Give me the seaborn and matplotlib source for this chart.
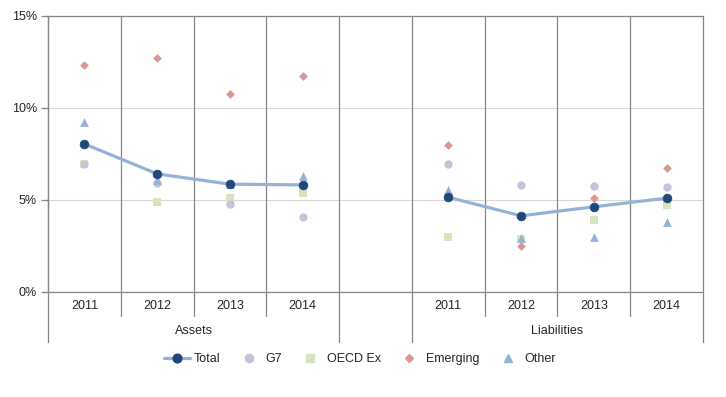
import numpy as np
import pandas as pd
import matplotlib
matplotlib.use("Agg")
import matplotlib.pyplot as plt
import seaborn as sns
from matplotlib.lines import Line2D

# DATA (percent)
years = ['2011', '2012', '2013', '2014', '', '2011', '2012', '2013', '2014']
groups = ['Assets', 'Assets', 'Assets', 'Assets', '', 'Liabilities', 'Liabilities', 'Liabilities', 'Liabilities']
total = [8.05, 6.42, 5.86, 5.82, np.nan, 5.15, 4.14, 4.63, 5.10]
g7 = [6.93, 5.95, 4.79, 4.05, np.nan, 6.93, 5.84, 5.75, 5.68]
oecd_ex = [6.93, 4.88, 5.12, 5.37, np.nan, 2.98, 2.90, 3.90, 4.72]
emerging = [12.36, 12.73, 10.78, 11.75, np.nan, 7.97, 2.48, 5.10, 6.76]
other = [9.26, 6.06, 5.85, 6.31, np.nan, 5.55, 2.93, 3.00, 3.80]
y_ticks = [0, 5, 10, 15]
y_tick_labels = ['0%', '5%', '10%', '15%']

# colours
c_line = '#95b3d7'
c_total = '#1f497d'
c_g7 = '#ccc1da'
c_oecd = '#d7e4bd'
c_em = '#d99694'
c_other = '#95b3d7'
c_grid = '#d9d9d9'
c_axis = '#868686'

sns.set_style('white')
plt.rcParams['font.family'] = ['Liberation Sans', 'DejaVu Sans']

pos = list(range(len(years)))
df = pd.DataFrame({'pos': pos, 'group': groups, 'Total': total, 'G7': g7,
                   'OECD Ex': oecd_ex, 'Emerging': emerging, 'Other': other})

fig = plt.figure(figsize=(7.26, 3.97), dpi=100)
ax = fig.add_axes([48 / 726, 105 / 397, 655 / 726, 276 / 397])

# scatter series
sns.scatterplot(data=df, x='pos', y='G7', ax=ax, color=c_g7, marker='o', s=36, linewidth=0, zorder=3)
sns.scatterplot(data=df, x='pos', y='OECD Ex', ax=ax, color=c_oecd, marker='s', s=36, linewidth=0, zorder=2)
sns.scatterplot(data=df, x='pos', y='Emerging', ax=ax, color=c_em, marker='D', s=20, linewidth=0, zorder=3)
sns.scatterplot(data=df, x='pos', y='Other', ax=ax, color=c_other, marker='^', s=40, linewidth=0, zorder=3)

# total line, one segment per group
dft = df.dropna(subset=['Total'])
sns.lineplot(data=dft, x='pos', y='Total', units='group', estimator=None, ax=ax,
             color=c_line, linewidth=2.3, zorder=4)
sns.scatterplot(data=dft, x='pos', y='Total', ax=ax, color=c_total, marker='o', s=40,
                linewidth=0.5, edgecolor=c_total, zorder=5)

ax.set_xlim(-0.5, 8.5)
ax.set_ylim(0, 15)
ax.set_yticks(y_ticks)
ax.set_yticklabels(y_tick_labels, fontsize=9)
ax.set_xticks([])
ax.set_xlabel('')
ax.set_ylabel('')
ax.yaxis.grid(True, color=c_grid, linewidth=0.8)
ax.set_axisbelow(True)
ax.tick_params(axis='y', length=5, width=0.8, color=c_axis, left=True, pad=3)
for side in ['right', 'bottom']:
    ax.spines[side].set_visible(False)
for side in ['left', 'top']:
    ax.spines[side].set_color(c_axis)
    ax.spines[side].set_linewidth(0.9)
ax.axhline(0, color=c_axis, linewidth=0.9, zorder=1, clip_on=False)

# y tick marks
ytr = ax.get_yaxis_transform()
for t in y_ticks:
    ax.plot([-5 / 655, 0], [t, t], transform=ytr, color=c_axis, linewidth=0.9,
            clip_on=False, zorder=1)

# vertical separators
tr = ax.get_xaxis_transform()
for k in range(len(years) + 1):
    xk = k - 0.5
    low = -0.181 if k in (0, 4, 5, 9) else -0.087
    ax.plot([xk, xk], [1, low], transform=tr, color=c_axis, linewidth=0.9,
            clip_on=False, zorder=1)

# category labels
for p, yr in zip(pos, years):
    ax.text(p, -0.05, yr, transform=tr, ha='center', va='center', fontsize=9)
ax.text(1.5, -0.141, 'Assets', transform=tr, ha='center', va='center', fontsize=9)
ax.text(6.5, -0.141, 'Liabilities', transform=tr, ha='center', va='center', fontsize=9)

handles = [
    Line2D([], [], color=c_line, linewidth=2.3, marker='o', markersize=6.3,
           markerfacecolor=c_total, markeredgecolor=c_total),
    Line2D([], [], linestyle='', marker='o', markersize=6, color=c_g7),
    Line2D([], [], linestyle='', marker='s', markersize=6, color=c_oecd),
    Line2D([], [], linestyle='', marker='D', markersize=4.5, color=c_em),
    Line2D([], [], linestyle='', marker='^', markersize=6.3, color=c_other),
]
fig.legend(handles, ['Total', 'G7', 'OECD Ex', 'Emerging', 'Other'], loc='center',
           bbox_to_anchor=(360 / 726, 1 - 359 / 397), ncol=5, frameon=False,
           fontsize=9, handlelength=2.1, handletextpad=0.3, columnspacing=1.2)

fig.savefig('out.png', dpi=100)
